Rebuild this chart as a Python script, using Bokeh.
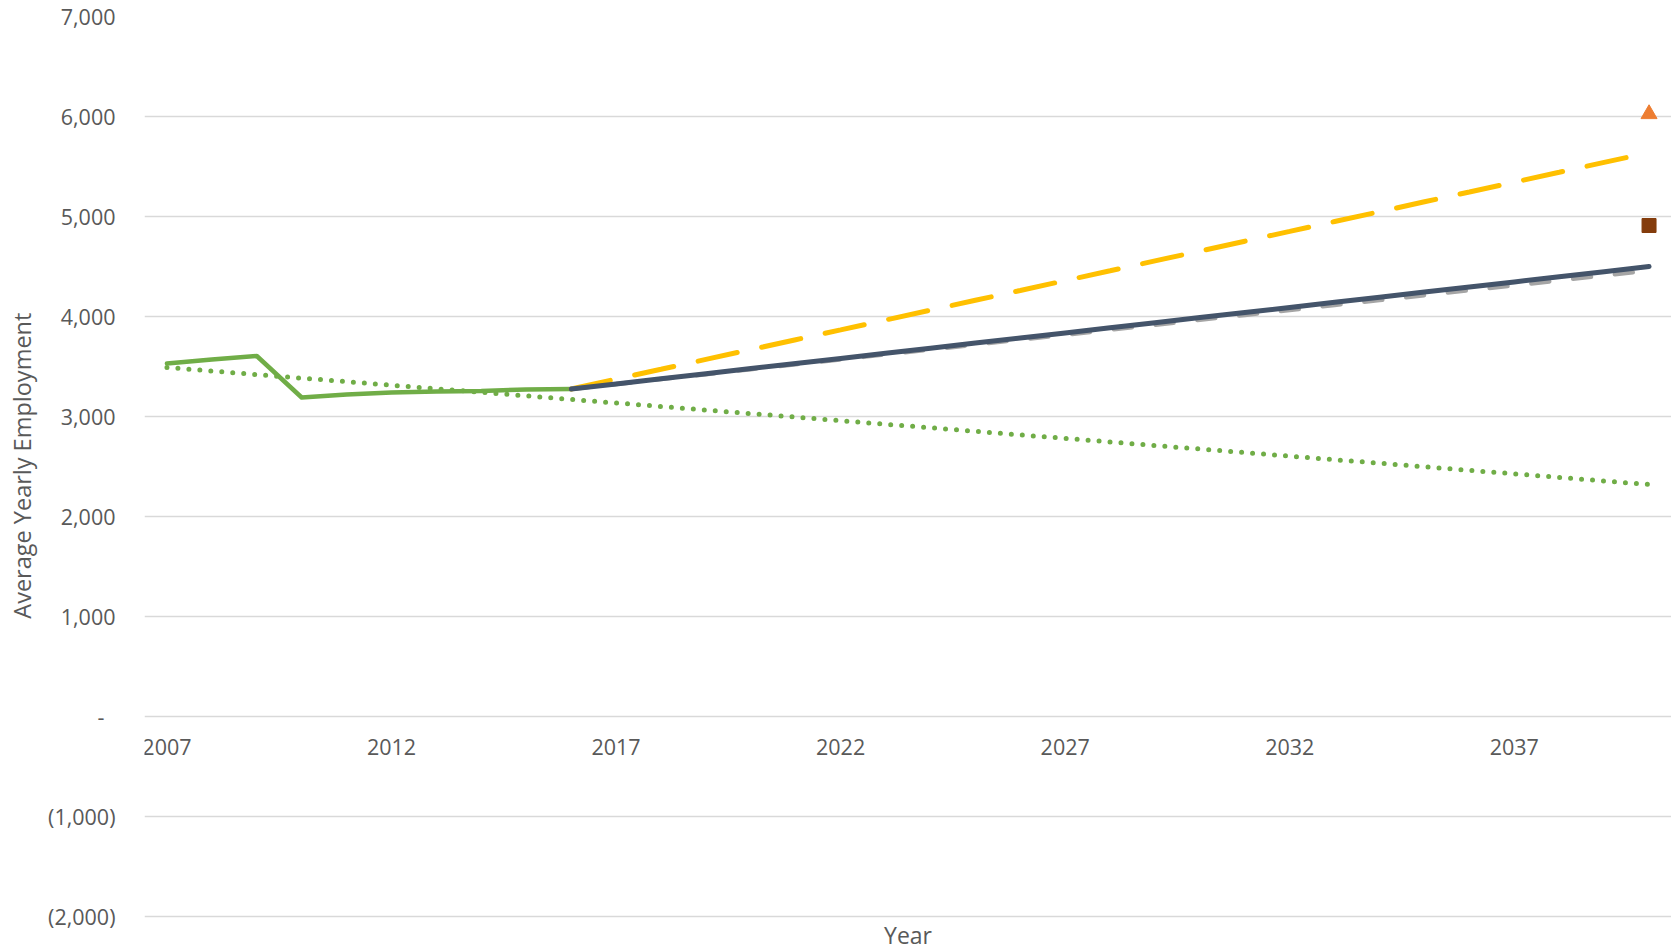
from bokeh.plotting import figure
from bokeh.models import Range1d, FixedTicker, CustomJSTickFormatter, Label
from bokeh.embed import file_html
from bokeh.resources import INLINE

# ---- data ----
hist_years = [2007, 2008, 2009, 2010, 2011, 2012, 2013, 2014, 2015, 2016]
hist_emp = [3530, 3570, 3605, 3190, 3220, 3240, 3250, 3255, 3270, 3275]

proj_years = [2016, 2017, 2018, 2019, 2020, 2021, 2022, 2023, 2024, 2025, 2026, 2027, 2028,
              2029, 2030, 2031, 2032, 2033, 2034, 2035, 2036, 2037, 2038, 2039, 2040]
proj_base = [3275, 3326, 3377, 3428, 3479, 3530, 3581, 3632, 3683, 3734, 3785, 3836, 3887,
             3938, 3989, 4040, 4091, 4142, 4193, 4244, 4295, 4346, 4397, 4448, 4499]
proj_alt = [3275, 3324, 3374, 3423, 3473, 3522, 3571, 3621, 3670, 3720, 3769, 3818, 3868,
            3917, 3967, 4016, 4065, 4115, 4164, 4214, 4263, 4312, 4362, 4411, 4461]
proj_high = [3275, 3374, 3472, 3571, 3669, 3768, 3866, 3965, 4063, 4162, 4260, 4359, 4457,
             4556, 4654, 4753, 4851, 4950, 5048, 5147, 5245, 5344, 5442, 5541, 5639]

trend_years = [2007, 2040]
trend_emp = [3490, 2320]

target_years = [2040]
target_high = [6025]
target_mid = [4910]

x_tick_years = [2007, 2012, 2017, 2022, 2027, 2032, 2037]
y_ticks = [-2000, -1000, 0, 1000, 2000, 3000, 4000, 5000, 6000, 7000]

FONT = "Open Sans"
TXT = "#595959"

# plot area runs to the bottom edge so the "Year" title sits inside it, under the (2,000) line
p = figure(width=1671, height=951, output_backend="svg", toolbar_location=None,
           x_range=Range1d(2006.5, 2040.5), y_range=Range1d(-2350, 7000),
           min_border_left=144, min_border_right=0, min_border_top=16, min_border_bottom=0)
p.outline_line_color = None
p.background_fill_color = "white"
p.border_fill_color = "white"

# grid
p.xgrid.grid_line_color = None
p.ygrid.ticker = FixedTicker(ticks=y_ticks)
p.ygrid.grid_line_color = "#d9d9d9"
p.ygrid.grid_line_width = 1.5

# y axis
ya = p.yaxis[0]
ya.ticker = FixedTicker(ticks=y_ticks)
ya.formatter = CustomJSTickFormatter(code="""
const v = Math.round(tick);
if (v === 0) return "-\u00a0\u00a0";
const s = Math.abs(v).toString().replace(/\\B(?=(\\d{3})+(?!\\d))/g, ",");
return v < 0 ? "(" + s + ")" : s;
""")
ya.axis_line_color = None
ya.major_tick_out = 0
ya.major_tick_in = 0
ya.minor_tick_out = 0
ya.minor_tick_in = 0
ya.major_label_standoff = 29
ya.major_label_text_font = FONT
ya.major_label_text_font_size = "21.5px"
ya.major_label_text_color = TXT
# leading no-break spaces centre the visible title on the 7,000..(2,000) span
ya.axis_label = "\u00a0" * 6 + "Average Yearly Employment"
ya.axis_label_text_font = FONT
ya.axis_label_text_font_size = "23.5px"
ya.axis_label_text_font_style = "normal"
ya.axis_label_text_color = TXT
ya.axis_label_standoff = 7

# x axis crossing at zero
xa = p.xaxis[0]
xa.fixed_location = 0
xa.ticker = FixedTicker(ticks=x_tick_years)
xa.axis_line_color = None
xa.major_tick_out = 0
xa.major_tick_in = 0
xa.minor_tick_out = 0
xa.minor_tick_in = 0
xa.major_label_standoff = 22
xa.major_label_text_font = FONT
xa.major_label_text_font_size = "21.5px"
xa.major_label_text_color = TXT

# axis title "Year" under the (2,000) gridline
p.add_layout(Label(x=2023.5, y=-2180, text="Year", text_align="center", text_baseline="middle",
                   text_font=FONT, text_font_size="23px", text_color=TXT))

# series
p.line(hist_years, hist_emp, line_color="#70ad47", line_width=4.5, line_join="round", line_cap="round")
p.line(proj_years, proj_high, line_color="#ffc000", line_width=5, line_dash="40 25", line_cap="round")
p.line(proj_years, proj_alt, line_color="#a5a5a5", line_width=4.5, line_dash="18 24", line_cap="round")
p.line(proj_years, proj_base, line_color="#44546a", line_width=5, line_cap="round")
p.line(trend_years, trend_emp, line_color="#70ad47", line_width=5, line_dash="0 11", line_cap="round")

p.scatter(target_years, target_high, marker="triangle", size=16, fill_color="#ed7d31", line_color="#ed7d31")
p.scatter(target_years, target_mid, marker="square", size=14, fill_color="#843c0c", line_color="#843c0c")

open("out.html", "w").write(file_html(p, INLINE))
